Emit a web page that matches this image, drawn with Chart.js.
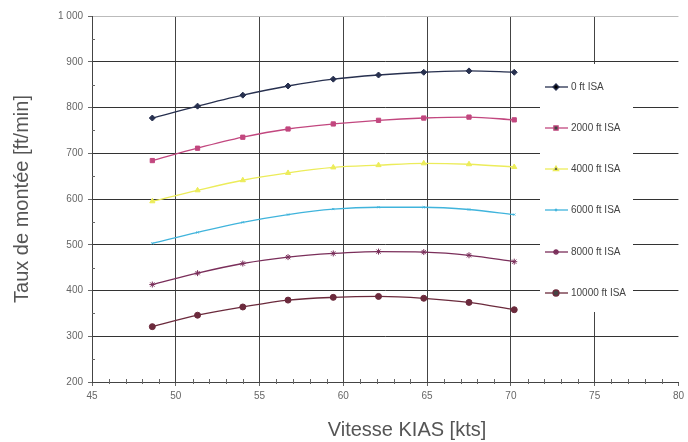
<!DOCTYPE html>
<html>
<head>
<meta charset="utf-8">
<script src="https://cdn.jsdelivr.net/npm/chart.js@4.4.1/dist/chart.umd.min.js"></script>
<style>
  html, body { margin: 0; padding: 0; background: #fff; }
  #wrap { width: 688px; height: 442px; }
</style>
</head>
<body>
<div id="wrap"><canvas id="graf" width="688" height="442"></canvas></div>
<script>
// ===== Données =====
// vitesses (90..130 km/h converties en kts)
const vitesses = [48.6, 51.3, 54.0, 56.7, 59.4, 62.1, 64.8, 67.5, 70.2];

const altitudes = ["0 ft ISA", "2000 ft ISA", "4000 ft ISA", "6000 ft ISA", "8000 ft ISA", "10000 ft ISA"];

const taux0 = [777, 803, 827, 847, 862, 871, 877, 880, 877];
const taux2000 = [684, 711, 735, 753, 764, 772, 777, 779, 773];
const taux4000 = [595, 619, 641, 657, 669, 674, 678, 676, 670];
const taux6000 = [503, 527, 549, 566, 578, 582, 582, 577, 566];
const taux8000 = [413, 438, 459, 473, 481, 485, 484, 477, 463];
const taux10000 = [321, 346, 364, 379, 385, 387, 383, 374, 358];

const yTicks = [200, 300, 400, 500, 600, 700, 800, 900, 1000];
const xTicks = [45, 50, 55, 60, 65, 70, 75, 80];

const titreX = "Vitesse KIAS [kts]";
const titreY = "Taux de montée [ft/min]";

const couleurs = ["#27304f", "#c2477f", "#ecec5a", "#40b4dc", "#7a2e5a", "#6b2a3c"];
const marqueurs = ["rectRot", "rect", "triangle", "crossRot", "star", "circle"];
const series = [taux0, taux2000, taux4000, taux6000, taux8000, taux10000];

const datasets = series.map((s, i) => ({
  label: altitudes[i],
  data: s.map((v, j) => ({ x: vitesses[j], y: v })),
  borderColor: couleurs[i],
  backgroundColor: couleurs[i],
  borderWidth: 1.3,
  pointStyle: marqueurs[i],
  pointRadius: i === 3 ? 1.5 : 3,
  pointBorderWidth: 1,
  cubicInterpolationMode: "monotone",
  tension: 0.4
}));

// boîte de légende (fond blanc qui coupe la grille)
const boxLegende = { x0: 540, x1: 633, y0: 64, y1: 312 };

const pluginLegende = {
  id: "legendeInterne",
  beforeDatasetsDraw(chart) {
    const ctx = chart.ctx;
    ctx.save();
    ctx.fillStyle = "#fff";
    ctx.fillRect(boxLegende.x0, boxLegende.y0, boxLegende.x1 - boxLegende.x0, boxLegende.y1 - boxLegende.y0);
    ctx.restore();
  },
  afterDatasetsDraw(chart) {
    const ctx = chart.ctx;
    const ys = [87, 128, 169, 210, 252, 293];
    ctx.save();
    chart.data.datasets.forEach((ds, i) => {
      const y = ys[i];
      ctx.strokeStyle = ds.borderColor;
      ctx.lineWidth = 1.3;
      ctx.beginPath();
      ctx.moveTo(545, y);
      ctx.lineTo(568, y);
      ctx.stroke();
      Chart.helpers.drawPoint(ctx, {
        pointStyle: ds.pointStyle, radius: ds.pointRadius, borderWidth: 1
      }, 556, y);
      ctx.fillStyle = "#444";
      ctx.font = "10px 'Liberation Sans', Arial, sans-serif";
      ctx.textBaseline = "middle";
      ctx.fillText(ds.label, 571, y);
    });
    ctx.restore();
  }
};

// petites graduations secondaires + titre de l'axe X (décalé comme l'original)
const pluginGraduations = {
  id: "graduations",
  afterDraw(chart) {
    const ctx = chart.ctx;
    const xs = chart.scales.x, ys = chart.scales.y;
    ctx.save();
    ctx.strokeStyle = "#666";
    ctx.lineWidth = 1;
    for (let v = 46; v < 80; v++) {
      if (v % 5 === 0) continue;
      const px = Math.round(xs.getPixelForValue(v)) + 0.5;
      ctx.beginPath();
      ctx.moveTo(px, ys.bottom - 3);
      ctx.lineTo(px, ys.bottom + 2);
      ctx.stroke();
    }
    for (let v = 250; v < 1000; v += 100) {
      const py = Math.round(ys.getPixelForValue(v)) + 0.5;
      ctx.beginPath();
      ctx.moveTo(xs.left, py);
      ctx.lineTo(xs.left + 3, py);
      ctx.stroke();
    }
    ctx.fillStyle = "#555";
    ctx.font = "20px 'Liberation Sans', Arial, sans-serif";
    ctx.textAlign = "center";
    ctx.textBaseline = "middle";
    ctx.fillText(titreX, 407, 430);
    ctx.restore();
  }
};

new Chart(document.getElementById("graf"), {
  type: "line",
  data: { datasets },
  options: {
    responsive: false,
    animation: false,
    layout: { padding: { top: 16, right: 8, left: 0, bottom: 0 } },
    plugins: { legend: { display: false }, tooltip: { enabled: false } },
    scales: {
      x: {
        type: "linear",
        min: 45, max: 80,
        afterBuildTicks: s => { s.ticks = xTicks.map(v => ({ value: v })); },
        afterFit: s => { s.height = 60; },
        grid: {
          color: ctx => (ctx.tick && (ctx.tick.value === 80)) ? "rgba(0,0,0,0)" : "#444",
          lineWidth: 1,
          tickLength: 4,
          tickColor: "#666"
        },
        border: { color: "#444", width: 1 },
        ticks: { color: "#666", font: { size: 10, family: "'Liberation Sans', Arial" }, padding: 4 }
      },
      y: {
        min: 200, max: 1000,
        afterBuildTicks: s => { s.ticks = yTicks.map(v => ({ value: v })); },
        afterFit: s => { s.width = 92; },
        grid: {
          color: ctx => (ctx.tick && ctx.tick.value === 1000) ? "#bbb" : "#333",
          lineWidth: 1,
          tickLength: 4,
          tickColor: "#666"
        },
        border: { color: "#444", width: 1 },
        ticks: {
          color: "#666",
          font: { size: 10, family: "'Liberation Sans', Arial" },
          padding: 5,
          callback: v => v === 1000 ? "1 000" : String(v)
        },
        title: {
          display: true,
          text: titreY,
          color: "#555",
          font: { size: 20, family: "'Liberation Sans', Arial" },
          padding: { top: 10, bottom: 10 }
        }
      }
    }
  },
  plugins: [pluginLegende, pluginGraduations]
});
</script>
</body>
</html>
